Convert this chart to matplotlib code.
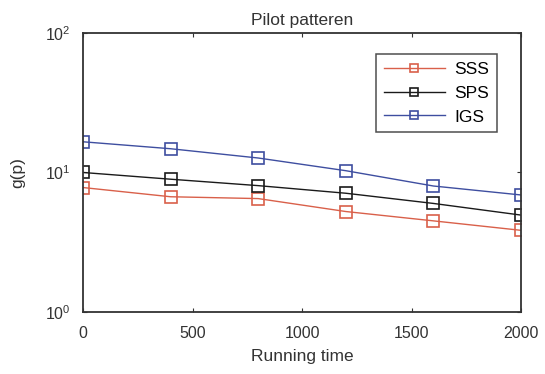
import matplotlib
matplotlib.use("Agg")
import matplotlib.pyplot as plt
from matplotlib.ticker import NullLocator, FixedLocator

plt.rcParams['font.family'] = ['Liberation Sans', 'DejaVu Sans']
plt.rcParams['mathtext.fontset'] = 'custom'
plt.rcParams['mathtext.rm'] = 'Liberation Sans'
plt.rcParams['mathtext.it'] = 'Liberation Sans:italic'

running_time = [0, 400, 800, 1200, 1600, 2000]
sss = [7.8, 6.7, 6.5, 5.25, 4.5, 3.85]
sps = [10.0, 8.95, 8.05, 7.1, 6.0, 4.95]
igs = [16.6, 14.8, 12.7, 10.3, 8.0, 6.9]
series_names = ['SSS', 'SPS', 'IGS']
colors = ['#d9604a', '#1a1a1a', '#3e4ea0']
x_ticks = [0, 500, 1000, 1500, 2000]
y_ticks = [1, 10, 100]
y_tick_labels = [r'$\mathregular{10^{0}}$', r'$\mathregular{10^{1}}$', r'$\mathregular{10^{2}}$']

fig = plt.figure(figsize=(5.45, 3.74), dpi=100)
ax = fig.add_axes([0.1523, 0.1658, 0.8037, 0.7460])

for vals, name, c in zip([sss, sps, igs], series_names, colors):
    ax.plot(running_time, vals, color=c, lw=1.0, marker='s', ms=9,
            mfc='none', mec=c, mew=1.2, label=name)

ax.set_yscale('log')
ax.set_ylim(1, 100)
ax.set_xlim(0, 2000)
ax.xaxis.set_major_locator(FixedLocator(x_ticks))
ax.yaxis.set_major_locator(FixedLocator(y_ticks))
ax.set_yticklabels(y_tick_labels)
ax.yaxis.set_minor_locator(NullLocator())
ax.tick_params(direction='in', top=True, right=True, labelsize=11.5, length=3,
               colors='#333333', labelcolor='#333333')
ax.tick_params(axis='x', pad=10)
ax.tick_params(axis='y', pad=9)
for s in ax.spines.values():
    s.set_linewidth(1.3)
    s.set_color('#333333')

ax.set_title('Pilot patteren', fontsize=12.5, color='#333333', pad=6)
ax.set_xlabel('Running time', fontsize=12.5, color='#333333', labelpad=6)
ax.set_ylabel('g(p)', fontsize=12.5, color='#333333', labelpad=14)

leg = ax.legend(loc='upper right', bbox_to_anchor=(0.945, 0.925), fontsize=12.5,
                frameon=True, fancybox=False, edgecolor='#222222',
                handlelength=3.5, borderpad=0.45, labelspacing=0.5,
                handletextpad=0.55, borderaxespad=0, markerscale=0.7)
leg.get_frame().set_linewidth(1.1)

fig.savefig('out.png', dpi=100, facecolor='white')
